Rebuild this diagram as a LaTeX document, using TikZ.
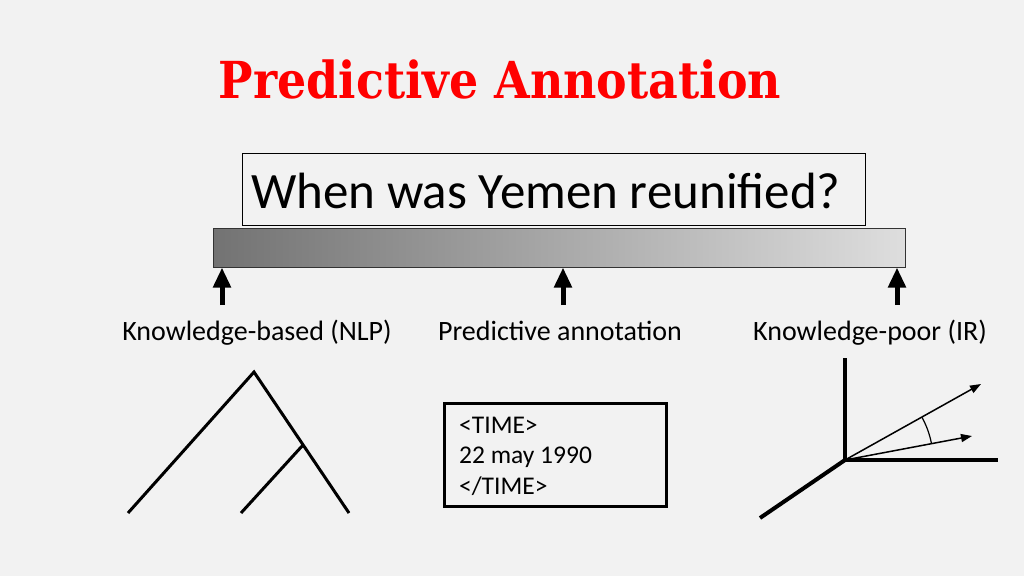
\documentclass[tikz,border=0pt]{standalone}
\usepackage{fontspec}
\setmainfont{Carlito}
\newfontfamily\titlefont{DejaVu Serif Condensed}
\usetikzlibrary{arrows.meta}
\definecolor{bg}{HTML}{F2F2F2}
\definecolor{titlered}{HTML}{FF0000}
\tikzset{
  bigarrow/.style={line width=5pt,-{Triangle[width=17pt,length=20pt]}},
  lbl/.style={font=\fontsize{28}{32}\selectfont,inner sep=0pt,anchor=base},
  axis/.style={line width=4pt},
  vec/.style={line width=1.5pt,-{Triangle[width=8pt,length=11pt]}},
}
\begin{document}
\begin{tikzpicture}[x=1pt,y=-1pt]
\fill[bg] (0,0) rectangle (1024,576);
\useasboundingbox (0,0) rectangle (1024,576);
% title
\node[text=titlered,font=\titlefont\bfseries\fontsize{51}{55}\selectfont,anchor=base,inner sep=0pt] (title) at (500,98) {Predictive Annotation};
% question
\node[draw,line width=1pt,minimum width=623pt,minimum height=72pt,anchor=north west,inner sep=0pt] (qbox) at (242,153) {};
\node[anchor=base west,inner sep=0pt,font=\fontsize{51}{56}\selectfont] (qtext) at (251,208) {When was Yemen reunified?};
% bar
\node[draw=black!80,line width=1pt,minimum width=692pt,minimum height=39pt,inner sep=0pt,left color=black!55,right color=black!13] (bar) at (559,247.5) {};
% arrows
\coordinate (a1) at (222,305);
\coordinate (a2) at (563,305);
\coordinate (a3) at (897,305);
\draw[bigarrow] (a1) -- (a1 |- bar.south);
\draw[bigarrow] (a2) -- (a2 |- bar.south);
\draw[bigarrow] (a3) -- (a3 |- bar.south);
% labels
\node[lbl] (l1) at (257,340) {Knowledge-based (NLP)};
\node[lbl] (l2) at (560,340) {Predictive annotation};
\node[lbl] (l3) at (870,340) {Knowledge-poor (IR)};
% tree
\coordinate (root) at (254,372);
\coordinate (leafA) at (128,513);
\coordinate (mid) at (303,445);
\coordinate (leafB) at (241,513);
\coordinate (leafC) at (349,513);
\draw[line width=3pt] (leafA) -- (root) -- (leafC);
\draw[line width=3pt] (mid) -- (leafB);
% time box
\node[draw,line width=3pt,minimum width=222pt,minimum height=103pt,anchor=north west,inner sep=0pt] (tbox) at (443,402) {};
\node[anchor=base west,align=left,inner sep=0pt,font=\fontsize{25.5}{30.5}\selectfont] (ttext) at (459,494) {<TIME>\\22 may 1990\\</TIME>};
% vector space
\coordinate (o) at (845,460);
\coordinate (up) at (845,358);
\coordinate (right) at (998,460);
\coordinate (dl) at (760,518);
\coordinate (v1) at (981,384);
\coordinate (v2) at (972,436);
\draw[axis] (up) -- (o) -- (right);
\draw[axis] (o) -- (dl);
\draw[vec] (o) -- (v1);
\draw[vec] (o) -- (v2);
\draw[line width=1.2pt] ([shift={(29.2:88pt)}]o) arc[start angle=29.2,end angle=11,radius=88pt];
\end{tikzpicture}
\end{document}
